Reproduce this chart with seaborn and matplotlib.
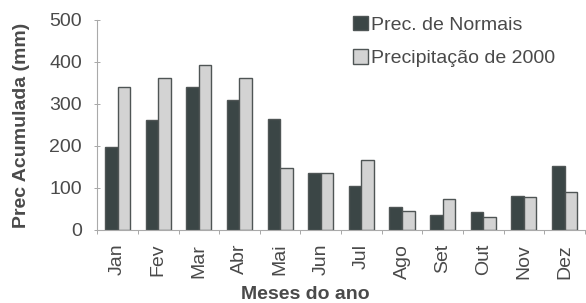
import matplotlib
matplotlib.use("Agg")
import matplotlib.pyplot as plt
import seaborn as sns
import pandas as pd

meses = ["Jan", "Fev", "Mar", "Abr", "Mai", "Jun", "Jul", "Ago", "Set", "Out", "Nov", "Dez"]
normais = [198, 262, 340, 310, 264, 136, 105, 55, 36, 43, 81, 152]
prec_2000 = [340, 362, 393, 362, 148, 136, 167, 45, 74, 31, 79, 90]
series_names = ["Prec. de Normais", "Precipitação de 2000"]

df = pd.DataFrame({
    "Mes": meses * 2,
    "Valor": normais + prec_2000,
    "Serie": [series_names[0]] * 12 + [series_names[1]] * 12,
})

sns.set_theme(style="white")
plt.rcParams["font.family"] = ["Liberation Sans", "DejaVu Sans"]

txt = "#4a4a4a"
fs = 14
fig = plt.figure(figsize=(5.86, 3.03), dpi=100)
ax = fig.add_axes([0.166, 0.241, 0.832, 0.693])

sns.barplot(data=df, x="Mes", y="Valor", hue="Serie",
            palette=["#3b4646", "#d3d3d3"], width=0.62, gap=0,
            edgecolor="#4f5555", linewidth=1.0, saturation=1, ax=ax)

ax.set_ylim(0, 500)
ax.set_xlim(-0.5, 11.5)
ax.set_yticks([0, 100, 200, 300, 400, 500])
ax.tick_params(axis="y", labelsize=fs, colors=txt, length=4, width=0.6, direction="inout",
               left=True, pad=9, color="#999999")
ax.tick_params(axis="x", labelsize=fs, colors=txt, rotation=90, length=0, pad=10)
for lab in ax.get_yticklabels() + ax.get_xticklabels():
    lab.set_color(txt)
# minor ticks between categories
ax.set_xticks([i + 0.5 for i in range(-1, 12)], minor=True)
ax.tick_params(axis="x", which="minor", length=3, width=0.6, color="#999999", bottom=True)

for s in ["top", "right"]:
    ax.spines[s].set_visible(False)
for s in ["left", "bottom"]:
    ax.spines[s].set_color("#aaaaaa")
    ax.spines[s].set_linewidth(0.8)

ax.set_ylabel("Prec Acumulada (mm)", fontsize=fs, fontweight="bold", color=txt)
ax.yaxis.set_label_coords(-0.138, 0.5)
ax.set_xlabel("Meses do ano", fontsize=fs, fontweight="bold", color=txt)
ax.xaxis.set_label_coords(0.426, -0.265)

leg = ax.legend(loc="upper left", bbox_to_anchor=(353 / 586, 1 - 16 / 303),
                bbox_transform=fig.transFigure, frameon=False,
                fontsize=fs, handlelength=0.75, handleheight=0.75, handletextpad=0.2,
                labelspacing=0.8, borderaxespad=0, borderpad=0)
for t in leg.get_texts():
    t.set_color(txt)

fig.savefig("out.png", dpi=100)
